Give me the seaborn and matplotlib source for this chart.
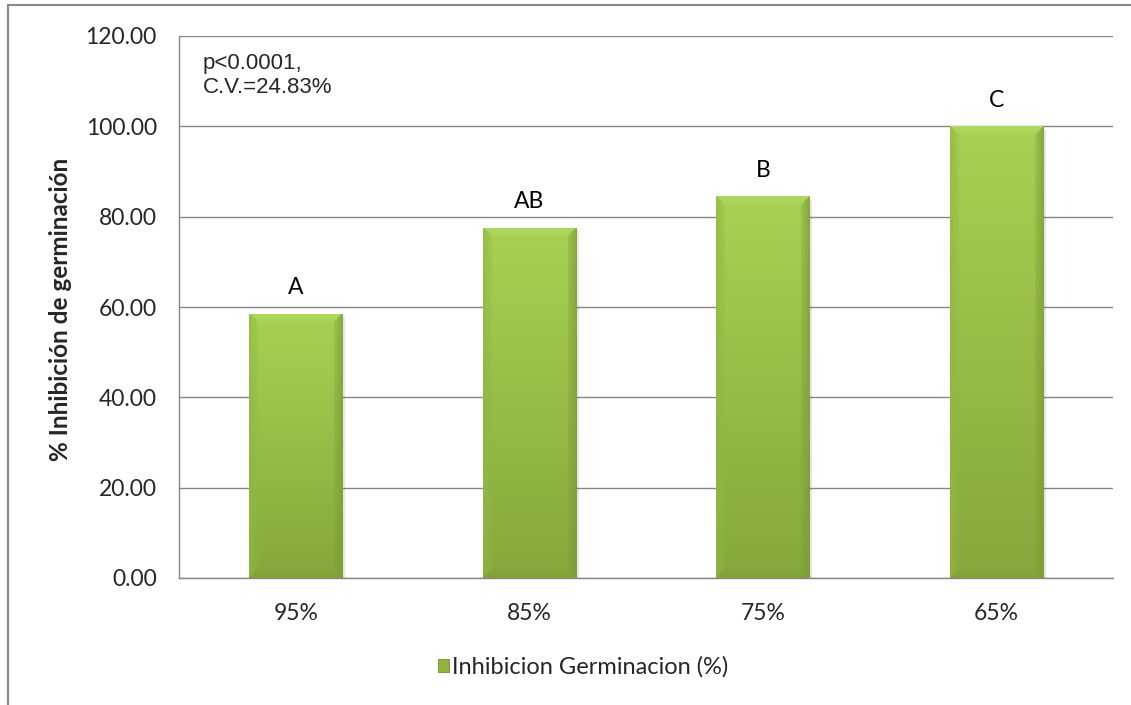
import numpy as np
import pandas as pd
import matplotlib
matplotlib.use("Agg")
import matplotlib.pyplot as plt
import seaborn as sns
from matplotlib.patches import Rectangle
from matplotlib.lines import Line2D

# Data
humedad = ["95%", "85%", "75%", "65%"]
inhibicion = [58.5, 77.6, 84.5, 100.0]
letras = ["A", "AB", "B", "C"]
y_ticks = [0, 20, 40, 60, 80, 100, 120]
serie = "Inhibicion Germinacion (%)"
y_label = "% Inhibición de germinación"
stats_txt = "p<0.0001,\nC.V.=24.83%"

sns.set_style("white")
plt.rcParams["font.family"] = ["Lato", "DejaVu Sans"]

W, H = 1131, 705
fig = plt.figure(figsize=(W / 100, H / 100), dpi=100)
ax = fig.add_axes([179 / W, 1 - 578 / H, (1113 - 179) / W, (578 - 36) / H])

df = pd.DataFrame({"Humedad": humedad, "Inhibicion": inhibicion})
sns.barplot(data=df, x="Humedad", y="Inhibicion", color="#98c046",
            saturation=1, width=0.4, edgecolor="#6f8f2e", linewidth=0.6,
            ax=ax, zorder=3)

ax.set_xlim(-0.5, len(humedad) - 0.5)
ax.set_ylim(0, 120)

grid_col = "#878787"
ax.set_yticks(y_ticks)
ax.set_yticklabels([f"{v:.2f}" for v in y_ticks], fontsize=16.5)
ax.yaxis.grid(True, color=grid_col, linewidth=1.0, zorder=0)
ax.set_axisbelow(True)

ax.set_xticks(range(len(humedad)))
ax.set_xticklabels(humedad, fontsize=16.5)
ax.set_xticks(np.arange(-0.5, len(humedad)), minor=True)
ax.tick_params(axis="x", which="major", length=0, pad=18)
ax.tick_params(axis="x", which="minor", length=7, width=1, color=grid_col, direction="out")
ax.tick_params(axis="y", length=6, width=1, color=grid_col, direction="out", pad=10)

for side in ["top", "right"]:
    ax.spines[side].set_visible(False)
for side in ["left", "bottom"]:
    ax.spines[side].set_color(grid_col)
    ax.spines[side].set_linewidth(1.0)

ax.set_xlabel("")
ax.set_ylabel(y_label, fontsize=17.5, fontweight="bold", va="center")
ax.yaxis.set_label_coords((60 - 179) / (1113 - 179), (578 - 309) / (578 - 36))

# Bevelled gradient fill on each bar
def hex_rgb(h):
    h = h.lstrip("#")
    return np.array([int(h[i:i + 2], 16) for i in (0, 2, 4)]) / 255.0

top_c, bot_c = hex_rgb("#a8d153"), hex_rgb("#86a83b")
bevel_top, bevel_left = hex_rgb("#b4da66"), hex_rgb("#90b743")
bevel_right, bevel_bot = hex_rgb("#7a9934"), hex_rgb("#7f9e37")

fig.canvas.draw()
for patch in list(ax.patches):
    x0, y0 = patch.get_x(), patch.get_y()
    w, h = patch.get_width(), patch.get_height()
    (px0, py0), (px1, py1) = ax.transData.transform([(x0, y0), (x0 + w, y0 + h)])
    nw, nh = max(int(round(px1 - px0)), 2), max(int(round(py1 - py0)), 2)
    yy, xx = np.mgrid[0:nh, 0:nw]
    t = 1 - yy / (nh - 1)  # 1 at top row
    img = (bot_c[None, None, :] * (1 - t[..., None]) + top_c[None, None, :] * t[..., None])
    b = 9
    d_top, d_bot = yy, nh - 1 - yy
    d_left, d_right = xx, nw - 1 - xx
    dmin = np.minimum.reduce([d_top, d_bot, d_left, d_right])
    for d, col in [(d_top, bevel_top), (d_left, bevel_left), (d_right, bevel_right), (d_bot, bevel_bot)]:
        m = (d == dmin) & (d < b)
        k = 0.5 * (1 - d[m] / b)[:, None] + 0.2
        img[m] = img[m] * (1 - k) + col * k
    im = ax.imshow(img, extent=[x0, x0 + w, y0, y0 + h], origin="upper",
                   aspect="auto", zorder=3.5, interpolation="bilinear")
    im.set_clip_path(patch)
    # soft shadow
    ax.add_patch(Rectangle((x0 + 0.012, y0), w, h - 0.8, facecolor="#000000",
                           alpha=0.10, edgecolor="none", zorder=2.9))

ax.set_xlim(-0.5, len(humedad) - 0.5)
ax.set_ylim(0, 120)

for i, (v, l) in enumerate(zip(inhibicion, letras)):
    ax.text(i, v + 5.8, l, ha="center", va="center", fontsize=16.5, color="#000000", zorder=5)

fig.text(203 / W, 1 - 53 / H, stats_txt, ha="left", va="top", fontsize=16,
         family=["Liberation Sans", "DejaVu Sans"], linespacing=1.2)

handle = Rectangle((0, 0), 1, 1, facecolor="#8fb540", edgecolor="#6f8f2e", linewidth=0.6)
fig.legend([handle], [serie], loc="center", bbox_to_anchor=(583 / W, 1 - 667 / H),
           frameon=False, fontsize=17, handlelength=0.5, handleheight=0.5,
           handletextpad=0.12)

# Chart-area border (top and left edges)
fig.add_artist(Line2D([8 / W, 8 / W], [0, 1 - 5 / H], transform=fig.transFigure,
                      color="#888888", linewidth=1.5))
fig.add_artist(Line2D([8 / W, 1], [1 - 5 / H, 1 - 5 / H], transform=fig.transFigure,
                      color="#888888", linewidth=1.5))

fig.savefig("out.png", dpi=100)
